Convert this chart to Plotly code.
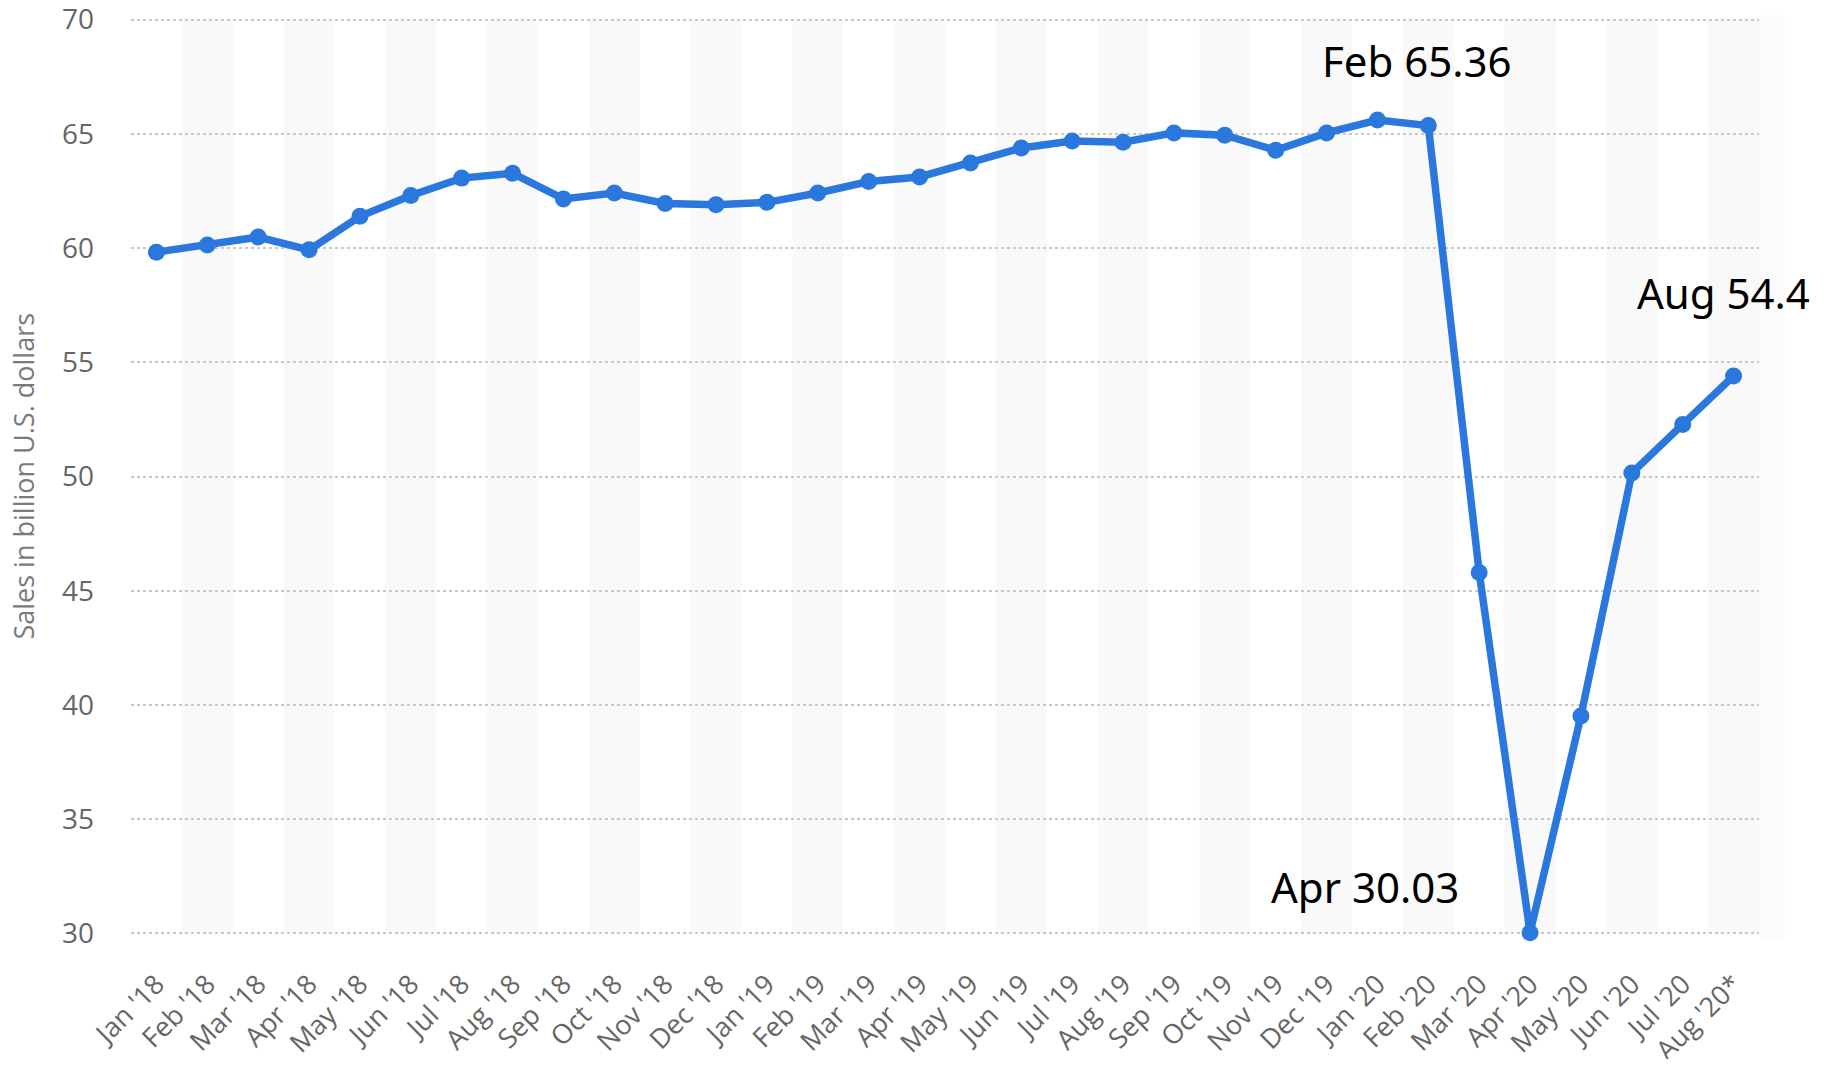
import plotly.graph_objects as go

months = ["Jan '18", "Feb '18", "Mar '18", "Apr '18", "May '18", "Jun '18", "Jul '18", "Aug '18",
          "Sep '18", "Oct '18", "Nov '18", "Dec '18", "Jan '19", "Feb '19", "Mar '19", "Apr '19",
          "May '19", "Jun '19", "Jul '19", "Aug '19", "Sep '19", "Oct '19", "Nov '19", "Dec '19",
          "Jan '20", "Feb '20", "Mar '20", "Apr '20", "May '20", "Jun '20", "Jul '20", "Aug '20*"]
sales = [59.82, 60.13, 60.48, 59.92, 61.39, 62.30, 63.06, 63.27,
         62.15, 62.41, 61.95, 61.90, 62.00, 62.41, 62.91, 63.11,
         63.72, 64.38, 64.68, 64.63, 65.04, 64.94, 64.28, 65.04,
         65.60, 65.36, 45.80, 30.03, 39.52, 50.15, 52.28, 54.40]
y_ticks = [30, 35, 40, 45, 50, 55, 60, 65, 70]
callouts = ["Feb 65.36", "Apr 30.03", "Aug 54.4"]
y_title = "Sales in billion U.S. dollars"

BLUE = "#2a78de"

fig = go.Figure()
fig.add_trace(go.Scatter(
    x=list(range(len(months))), y=sales, mode="lines+markers",
    line=dict(color=BLUE, width=7.5),
    marker=dict(color=BLUE, size=17),
    cliponaxis=False, hoverinfo="skip", showlegend=False,
))

shapes = []
for i in range(len(months)):
    if i % 2 == 1:
        shapes.append(dict(type="rect", xref="x", yref="y", x0=i - 0.5, x1=i + 0.5,
                           y0=30, y1=70, fillcolor="#f9f9f9", line=dict(width=0), layer="below"))
shapes.append(dict(type="rect", xref="paper", yref="paper", x0=1.0, x1=1.016, y0=0, y1=1,
                   fillcolor="#fbfbfb", line=dict(width=0), layer="below"))

ann_font = dict(family="Noto Sans, Open Sans, sans-serif", size=42, color="#000000")
annotations = [
    dict(x=24.77, y=68.2, xref="x", yref="y", text=callouts[0], showarrow=False,
         font=ann_font, xanchor="center", yanchor="middle"),
    dict(x=23.75, y=32.05, xref="x", yref="y", text=callouts[1], showarrow=False,
         font=ann_font, xanchor="center", yanchor="middle"),
    dict(x=1.0326, y=58.05, xref="paper", yref="y", text=callouts[2], showarrow=False,
         font=ann_font, xanchor="right", yanchor="middle"),
    dict(x=-0.0663, y=0.5, xref="paper", yref="paper", text=y_title, showarrow=False,
         textangle=-90, xanchor="center", yanchor="middle",
         font=dict(family="Open Sans, sans-serif", size=27, color="#7a7a7a")),
]

fig.update_layout(
    width=1808, height=1051,
    margin=dict(l=123, r=57, t=7, b=121),
    paper_bgcolor="white", plot_bgcolor="white",
    shapes=shapes, annotations=annotations,
    xaxis=dict(
        range=[-0.5, 31.5], tickmode="array", tickvals=list(range(len(months))), ticktext=months,
        tickangle=-45, showgrid=False, zeroline=False, showline=False, ticks="",
        tickfont=dict(family="Open Sans, sans-serif", size=27, color="#666666"),
        ticklabelstandoff=24, automargin=False, ticklabeloverflow="allow",
    ),
    yaxis=dict(
        range=[29.8, 70.2], tickmode="array", tickvals=y_ticks,
        showgrid=True, gridcolor="#c8c8c8", griddash="dot", gridwidth=1.5,
        zeroline=False, showline=False, ticks="",
        tickfont=dict(family="Open Sans, sans-serif", size=28, color="#666666"),
        ticklabelstandoff=36, automargin=False, ticklabeloverflow="allow",
    ),
)

fig.write_html("out.html")
